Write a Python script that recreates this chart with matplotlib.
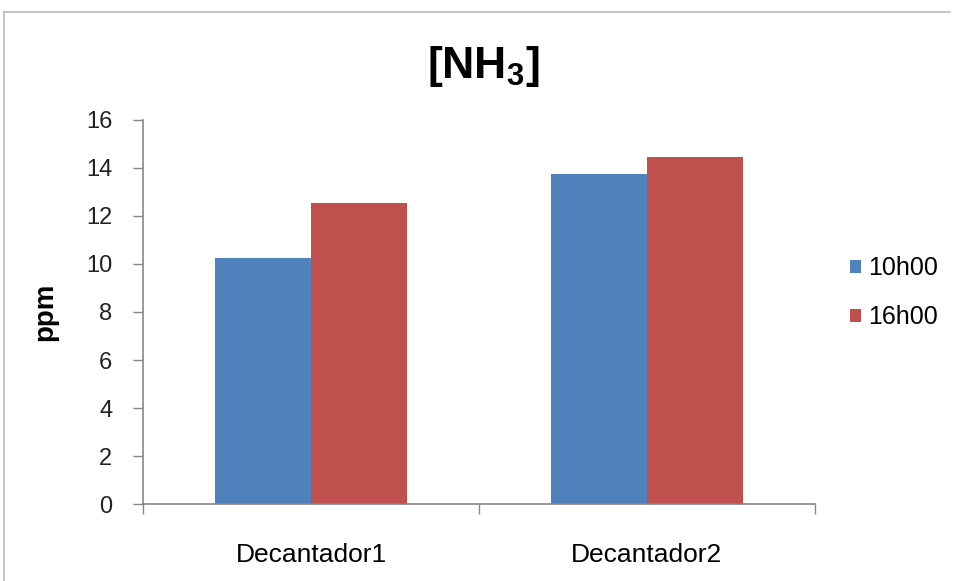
import numpy as np
import matplotlib.pyplot as plt
from matplotlib.lines import Line2D

plt.rcParams['font.family'] = ['Liberation Sans', 'DejaVu Sans']

categories = ['Decantador1', 'Decantador2']
series_names = ['10h00', '16h00']
vals_10h = [10.25, 13.75]
vals_16h = [12.55, 14.45]
y_ticks = [0, 2, 4, 6, 8, 10, 12, 14, 16]

blue = '#4F81BD'
red = '#C0504D'
axis_gray = '#868686'

fig = plt.figure(figsize=(9.56, 5.81), dpi=100)
ax = fig.add_axes([0.1496, 0.1325, 0.7029, 0.661])

x = np.arange(len(categories))
w = 96 / 335
ax.bar(x - w / 2, vals_10h, w, color=blue, label=series_names[0])
ax.bar(x + w / 2, vals_16h, w, color=red, label=series_names[1])

ax.set_xlim(-0.5, len(categories) - 0.5)
ax.set_ylim(0, 16)
ax.set_yticks(y_ticks)
ax.tick_params(axis='y', direction='out', length=7, width=1, color=axis_gray,
               labelsize=17, pad=15, labelcolor='#222222')

ax.set_xticks(x)
ax.set_xticklabels(categories, fontsize=19)
ax.set_xticks(np.arange(len(categories) + 1) - 0.5, minor=True)
ax.tick_params(axis='x', which='major', length=0, pad=28)
ax.tick_params(axis='x', which='minor', direction='out', length=7, width=1, color=axis_gray)

for side in ['top', 'right']:
    ax.spines[side].set_visible(False)
for side in ['left', 'bottom']:
    ax.spines[side].set_color(axis_gray)
    ax.spines[side].set_linewidth(1.2)

ax.set_ylabel('ppm', fontsize=20, fontweight='bold', labelpad=20)

fig.text(0.505, 0.885, r'[NH$_\mathregular{3}$]', fontsize=32, fontweight='bold',
         ha='center', va='center')

ax.legend(loc='center left', bbox_to_anchor=(1.022, 0.55), frameon=False,
          fontsize=18, handlelength=0.45, handleheight=0.45, handletextpad=0.3,
          labelspacing=1.0, borderpad=0.3)

# chart area border on the left and top
fig.add_artist(Line2D([4 / 956, 4 / 956], [0, 1 - 12 / 581], transform=fig.transFigure,
                      color='#BBBBBB', lw=1.2))
fig.add_artist(Line2D([4 / 956, 950 / 956], [1 - 12 / 581, 1 - 12 / 581],
                      transform=fig.transFigure, color='#BBBBBB', lw=1.2))

fig.savefig('out.png', dpi=100)
